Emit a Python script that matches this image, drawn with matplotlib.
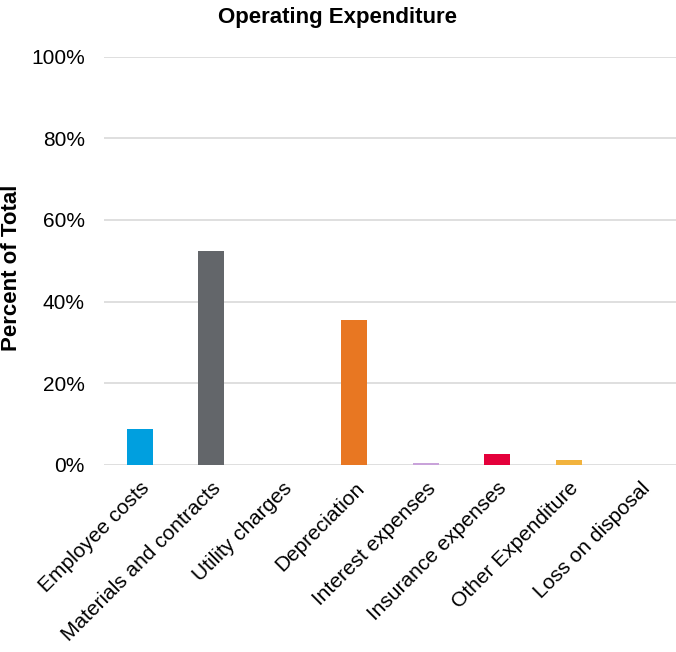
"""Operating expenditure bar chart"""

import matplotlib
matplotlib.use("Agg")
import matplotlib.pyplot as plt
from matplotlib.ticker import PercentFormatter

categories = [
    "Employee costs",
    "Materials and contracts",
    "Utility charges",
    "Depreciation",
    "Interest expenses",
    "Insurance expenses",
    "Other Expenditure",
    "Loss on disposal",
]
percent = [8.8, 52.5, 0.0, 35.5, 0.4, 2.7, 1.2, 0.0]
colors = ["#009FDF", "#63666A", "#8DC63F", "#E87722", "#C9A3DA", "#E4003B", "#F2B33D", "#00A3AD"]

plt.rcParams["font.family"] = ["Liberation Sans", "DejaVu Sans"]

fig = plt.figure(figsize=(6.76, 6.52), dpi=100)
ax = fig.add_axes([0.154, 0.287, 0.846, 0.626])

x = range(len(categories))
ax.bar(x, percent, width=0.36, color=colors, zorder=3)

ax.set_ylim(0, 100)
ax.set_xlim(-0.5, len(categories) - 0.5)
ax.set_yticks(range(0, 101, 20))
ax.yaxis.set_major_formatter(PercentFormatter(decimals=0))
ax.grid(axis="y", color="#D9D9D9", linewidth=1.2, zorder=0)
for s in ax.spines.values():
    s.set_visible(False)
ax.tick_params(axis="both", length=0, labelsize=15, pad=10)
ax.tick_params(axis="y", pad=14)

ax.set_xticks(list(x))
ax.set_xticklabels(categories, rotation=45, ha="right", rotation_mode="anchor")

# 軸ラベルとタイトルは図全体の座標で配置
fig.text(0.017, 0.59, "Percent of Total", rotation=90, ha="center", va="center",
         fontsize=16, fontweight="bold")
fig.text(0.5, 1 - 17 / 652, "Operating Expenditure", ha="center", va="center",
         fontsize=16, fontweight="bold")

fig.savefig("out.png", dpi=100)
